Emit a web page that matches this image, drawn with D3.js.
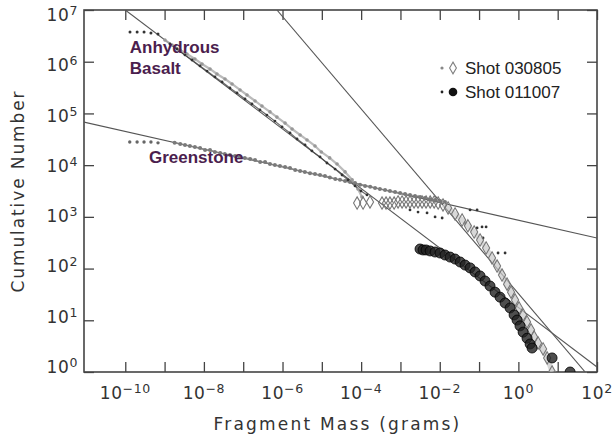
<!DOCTYPE html>
<html><head><meta charset="utf-8">
<script src="https://cdn.jsdelivr.net/npm/d3@7"></script>
<style>body{margin:0;background:#fff} svg{display:block}</style>
</head><body>
<svg id="c" width="615" height="436"></svg>
<script>
// ---------- DATA (mass in grams, cumulative number) ----------
const xTickValues = [1e-10,1e-9,1e-8,1e-7,1e-6,1e-5,1e-4,1e-3,1e-2,1e-1,1e0,1e1,1e2];
const xLabelExponents = [-10,-8,-6,-4,-2,0,2];
const yTickValues = [1e0,1e1,1e2,1e3,1e4,1e5,1e6,1e7];
const yLabelExponents = [0,1,2,3,4,5,6,7];

// Greenstone (Shot 030805, small gray dots)
const greenstoneStart = [[1.3e-10,2.8e4],[2.0e-10,2.8e4],[3.0e-10,2.8e4],[4.5e-10,2.8e4],[6.8e-10,2.7e4]];
const greenstone030805 = [
 [1.8e-9,2.7e4],[2.5e-9,2.57e4],[3.3e-9,2.46e4],[4.4e-9,2.35e4],[5.9e-9,2.25e4],[8.0e-9,2.15e4],
 [1.07e-8,1.96e4],[1.43e-8,1.96e4],[1.9e-8,1.8e4],[2.6e-8,1.72e4],[3.4e-8,1.64e4],[4.6e-8,1.57e4],
 [6.2e-8,1.5e4],[8.3e-8,1.44e4],[1.1e-7,1.38e4],[1.5e-7,1.32e4],[2.0e-7,1.26e4],[2.7e-7,1.15e4],
 [3.6e-7,1.15e4],[4.8e-7,1.05e4],[6.4e-7,1.01e4],[8.6e-7,9.6e3],[1.16e-6,9.2e3],[1.55e-6,8.8e3],
 [2.1e-6,8.06e3],[2.8e-6,7.7e3],[3.7e-6,7.4e3],[5.0e-6,7.0e3],[6.7e-6,6.75e3],[9.0e-6,6.45e3],
 [1.2e-5,6.17e3],[1.6e-5,5.8e3],[2.2e-5,5.4e3],[2.9e-5,5.2e3],[3.9e-5,4.94e3],[5.2e-5,4.7e3],
 [7.0e-5,4.5e3],[9.4e-5,4.2e3],[1.26e-4,3.96e3],[1.7e-4,3.8e3],[2.26e-4,3.62e3],[3.0e-4,3.45e3],
 [4.06e-4,3.31e3],[5.4e-4,3.15e3],[7.3e-4,3.03e3],[9.8e-4,2.9e3],[1.31e-3,2.77e3],[1.75e-3,2.65e3],
 [2.35e-3,2.53e3],[3.15e-3,2.42e3],[4.2e-3,2.32e3],[5.7e-3,2.2e3],[7.6e-3,2.12e3],[1.02e-2,2.03e3],[1.36e-2,1.94e3]
];

// Anhydrous basalt (Shot 030805, small gray dots)
const basalt030805 = [
 [1.02e-9,2.63e6],[1.54e-9,2.11e6],[2.47e-9,1.69e6],[3.7e-9,1.41e6],[5.9e-9,1.13e6],[8.95e-9,9.04e5],
 [1.43e-8,7.24e5],[2.15e-8,5.79e5],[3.44e-8,4.64e5],[5.2e-8,3.71e5],[8.3e-8,2.84e5],[1.25e-7,2.27e5],
 [2.0e-7,1.74e5],[3.0e-7,1.39e5],[4.8e-7,1.07e5],[7.2e-7,8.5e4],[1.16e-6,6.5e4],[1.75e-6,5.0e4],
 [2.8e-6,3.83e4],[4.2e-6,3.07e4],[6.7e-6,2.35e4],[9.7e-6,1.8e4],[1.58e-5,1.38e4],[2.44e-5,1.05e4],
 [3.9e-5,7.4e3],[5.9e-5,5.2e3],[8.3e-5,3.46e3],[1.05e-4,2.42e3]
];

// Anhydrous basalt (Shot 011007, small black dots)
const basaltStart = [[1.32e-10,3.76e6],[2.0e-10,3.76e6],[3.0e-10,3.76e6],[4.5e-10,3.6e6],[6.8e-10,3.44e6]];
const basalt011007 = [
 [1.37e-9,2.2e6],[2.07e-9,1.76e6],[3.3e-9,1.35e6],[4.98e-9,1.08e6],[7.96e-9,8.3e5],[1.2e-8,6.6e5],
 [1.91e-8,5.07e5],[2.9e-8,4.06e5],[4.6e-8,3.1e5],[6.95e-8,2.49e5],[1.11e-7,1.9e5],[1.67e-7,1.52e5],
 [2.67e-7,1.17e5],[4.0e-7,9.3e4],[6.4e-7,7.1e4],[9.7e-7,5.5e4],[1.55e-6,4.2e4],[2.34e-6,3.2e4],
 [3.74e-6,2.46e4],[5.6e-6,1.88e4],[9.0e-6,1.44e4],[1.35e-5,1.1e4],[2.17e-5,8.4e3],[3.27e-5,6.45e3],
 [4.6e-5,5.2e3],[7.0e-5,3.96e3],[9.9e-5,3.16e3],[1.41e-4,2.65e3]
];

// Scattered small black dots (Shot 011007)
const scatter011007 = [
 [1.75e-3,1.36e3],[2.8e-3,1.24e3],[4.75e-3,1.19e3],[7.6e-3,9.95e2],[1.15e-2,9.5e2],
 [4.4e-2,7.6e2],[5.9e-2,1.36e3],[8.9e-2,1.36e3],[8.9e-2,6.1e2],[0.119,6.4e2],[0.151,6.4e2],
 [0.126,3.9e2],[0.304,2.0e2],[0.459,2.0e2]
];

// Open diamonds (Shot 030805)
const diamonds030805 = [
 [7.9e-5,1.85e3],[1.12e-4,1.85e3],[1.68e-4,1.94e3],[3.4e-4,1.85e3],[4.3e-4,1.85e3],[5.4e-4,1.85e3],
 [6.9e-4,1.85e3],[8.7e-4,1.94e3],[1.1e-3,1.94e3],[1.39e-3,1.94e3],[1.75e-3,1.94e3],[2.22e-3,1.94e3],
 [2.8e-3,1.94e3],[3.55e-3,1.94e3],[4.48e-3,1.94e3],[5.7e-3,1.94e3],[7.2e-3,1.94e3],[9.1e-3,1.85e3],
 [1.21e-2,1.7e3],[1.63e-2,1.49e3],[2.45e-2,1.14e3],[3.7e-2,8.7e2],[5.2e-2,6.7e2],[7.5e-2,5.1e2],
 [0.106,3.57e2],[0.151,2.5e2],[0.214,1.6e2],[0.287,1.12e2],[0.384,75],[0.516,50],[0.652,35],
 [0.824,24.7],[1.04,17.3],[1.32,12.7],[1.66,9.3],[2.1,6.5],[2.51,4.75],[3.17,3.64],[4.25,2.79],
 [5.4,1.87],[7.2,1]
];

// Filled circles (Shot 011007)
const circles011007 = [
 [3.15e-3,2.39e2],[3.76e-3,2.29e2],[4.48e-3,2.29e2],[5.7e-3,2.19e2],[7.6e-3,2.09e2],[1.02e-2,2.0e2],
 [1.36e-2,1.83e2],[1.83e-2,1.67e2],[2.45e-2,1.53e2],[3.3e-2,1.34e2],[4.4e-2,1.17e2],[5.9e-2,1.03e2],
 [7.9e-2,86],[0.106,72],[0.142,57.5],[0.19,46],[0.255,35],[0.342,28],[0.459,21.6],[0.615,17.3],
 [0.778,12.7],[0.927,10.1],[1.10,7.8],[1.32,5.9],[1.66,4.5],[1.99,3.48],[2.23,2.91],[7.2,1.87],[20.7,1]
];

// Power-law fit lines (end points)
const fitGreenstone = [[8.9e-12,6.8e4],[100,3.9e2]];
const fitBasalt = [[1e-10,1e7],[100,1.25]];
const fitSteep = [[7.2e-7,1e7],[50,1]];

const legendLabels = ["Shot 030805","Shot 011007"];
const annotations = [["Anhydrous",[1.3e-10,1.5e6]],["Basalt",[1.3e-10,5.7e5]],["Greenstone",[4.0e-10,1.1e4]]];

// ---------- CHART ----------
const svg = d3.select('#c');
const L=84, R=597, T=10, B=372;
const x = d3.scaleLog().domain([Math.pow(10,-11.05),100]).range([L,R]);
const y = d3.scaleLog().domain([1,1e7]).range([B,T]);
const axisColor = '#444';
const tickFont = 'DejaVu Sans, Verdana, sans-serif';

svg.append('defs').append('clipPath').attr('id','clip')
  .append('rect').attr('x',L).attr('y',T).attr('width',R-L).attr('height',B-T);

function styleAxis(g){
  g.selectAll('path').attr('stroke','none');
  g.selectAll('line').attr('stroke',axisColor).attr('stroke-width',1.3);
  g.selectAll('text').remove();
}
svg.append('g').attr('transform',`translate(0,${B})`)
  .call(d3.axisBottom(x).tickValues(xTickValues).tickSizeInner(-10).tickSizeOuter(0).tickFormat(''))
  .call(styleAxis);
svg.append('g').attr('transform',`translate(0,${T})`)
  .call(d3.axisTop(x).tickValues(xTickValues).tickSizeInner(-10).tickSizeOuter(0).tickFormat(''))
  .call(styleAxis);
svg.append('g').attr('transform',`translate(${L},0)`)
  .call(d3.axisLeft(y).tickValues(yTickValues).tickSizeInner(-10).tickSizeOuter(0).tickFormat(''))
  .call(styleAxis);
svg.append('g').attr('transform',`translate(${R},0)`)
  .call(d3.axisRight(y).tickValues(yTickValues).tickSizeInner(-10).tickSizeOuter(0).tickFormat(''))
  .call(styleAxis);

svg.append('rect').attr('x',L).attr('y',T).attr('width',R-L).attr('height',B-T)
  .attr('fill','none').attr('stroke',axisColor).attr('stroke-width',1.6);

function powLabel(t, e){
  t.append('tspan').text('10');
  t.append('tspan').attr('font-size',12.5).attr('dy',-6).text(String(e).replace('-','\u2212'));
}
xLabelExponents.forEach(e=>{
  const t = svg.append('text').attr('x',x(Math.pow(10,e))).attr('y',399)
    .attr('text-anchor','middle').attr('font-family',tickFont).attr('font-size',17)
    .attr('fill','#333').attr('letter-spacing',0.6);
  powLabel(t,e);
});
yLabelExponents.forEach(e=>{
  const t = svg.append('text').attr('x',78).attr('y',y(Math.pow(10,e))+6+(e-3.5)*1.5)
    .attr('text-anchor','end').attr('font-family',tickFont).attr('font-size',17)
    .attr('fill','#333').attr('letter-spacing',0.6);
  powLabel(t,e);
});

svg.append('text').attr('x',(L+R)/2-3).attr('y',430).attr('text-anchor','middle')
  .attr('font-family',tickFont).attr('font-size',17).attr('letter-spacing',2.2)
  .attr('fill','#333').text('Fragment Mass (grams)');
svg.append('text').attr('transform','translate(24,191) rotate(-90)').attr('text-anchor','middle')
  .attr('font-family',tickFont).attr('font-size',17).attr('letter-spacing',1.9)
  .attr('fill','#333').text('Cumulative Number');

const plot = svg.append('g').attr('clip-path','url(#clip)');
const line = d3.line().x(d=>x(d[0])).y(d=>y(d[1]));
[fitGreenstone, fitBasalt, fitSteep].forEach(f=>{
  plot.append('path').attr('d',line(f)).attr('fill','none').attr('stroke','#555').attr('stroke-width',1.1);
});

function track(data, w, col, op){
  plot.append('path').attr('d',line(data)).attr('fill','none')
    .attr('stroke',col).attr('stroke-width',w).attr('stroke-opacity',op).attr('stroke-linejoin','round');
}
function dots(data, r, col){
  plot.append('g').selectAll('circle').data(data).join('circle')
    .attr('cx',d=>x(d[0])).attr('cy',d=>y(d[1])).attr('r',r).attr('fill',col);
}
track(greenstone030805, 1.6, '#888', 0.8);
track(basalt030805, 2.2, '#aaa', 0.8);
track(basalt011007, 1.2, '#444', 0.8);
dots(greenstoneStart, 1.7, '#666');
dots(greenstone030805, 2.0, '#7a7a7a');
dots(basalt030805, 1.8, '#999');
dots(basaltStart, 1.5, '#333');
dots(basalt011007, 1.4, '#333');
dots(scatter011007, 1.4, '#333');

// descending diamond band drawn as a faint light-gray trail under the symbols
track(diamonds030805.slice(18), 5, '#c8c8c8', 0.7);
const diamond = d3.symbol().type(d3.symbolDiamond).size(44);
plot.append('g').selectAll('path').data(diamonds030805).join('path')
  .attr('d',diamond).attr('transform',d=>`translate(${x(d[0])},${y(d[1])})`)
  .attr('fill','none').attr('stroke','#777').attr('stroke-width',1.1);

plot.append('g').selectAll('circle').data(circles011007).join('circle')
  .attr('cx',d=>x(d[0])).attr('cy',d=>y(d[1])).attr('r',5)
  .attr('fill','#222').attr('fill-opacity',0.8).attr('stroke','#000').attr('stroke-width',0.8);

annotations.forEach(([txt,p])=>{
  svg.append('text').attr('x',x(p[0])).attr('y',y(p[1]))
    .attr('font-family','Liberation Sans, Arial, sans-serif').attr('font-weight','bold')
    .attr('font-size',17).attr('fill','#4b1e4e').text(txt);
});

const lg = svg.append('g').attr('font-family','Liberation Sans, Arial, sans-serif').attr('font-size',17).attr('fill','#222');
lg.append('circle').attr('cx',442).attr('cy',68).attr('r',1.6).attr('fill','#888');
lg.append('path').attr('d',d3.symbol().type(d3.symbolDiamond).size(40)).attr('transform','translate(453,68)')
  .attr('fill','none').attr('stroke','#808080').attr('stroke-width',1.1);
lg.append('text').attr('x',465).attr('y',74).text(legendLabels[0]);
lg.append('circle').attr('cx',442).attr('cy',92).attr('r',1.4).attr('fill','#222');
lg.append('circle').attr('cx',453).attr('cy',92).attr('r',4.3).attr('fill','#111');
lg.append('text').attr('x',465).attr('y',98).text(legendLabels[1]);
</script>
</body></html>
